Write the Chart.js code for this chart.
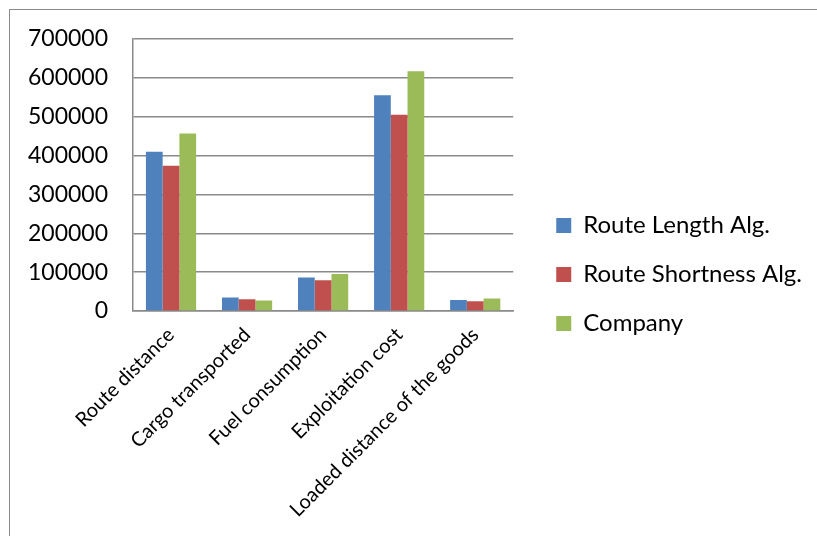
<!DOCTYPE html>
<html>
<head>
<meta charset="utf-8">
<script src="https://cdn.jsdelivr.net/npm/chart.js@4"></script>
<style>
    html, body { margin: 0; padding: 0; background: #fff; }
    #wrap { position: relative; width: 817px; height: 536px; }
    #marco {
        position: absolute; left: 9px; top: 9px; right: 0; bottom: 0;
        border-top: 1.5px solid #8a8a8a; border-left: 1.5px solid #8a8a8a;
        pointer-events: none;
    }
</style>
</head>
<body>
<div id="wrap">
    <canvas id="grafica" width="817" height="536"></canvas>
    <div id="marco"></div>
</div>
<script>
// datos de la grafica
const categorias = ['Route distance', 'Cargo transported', 'Fuel consumption', 'Exploitation cost', 'Loaded distance of the goods'];
const series = ['Route Length Alg.', 'Route Shortness Alg.', 'Company'];
const routeLength = [410000, 35000, 86000, 555000, 28000];
const routeShortness = [374000, 30000, 79000, 505000, 25000];
const company = [457000, 27000, 95000, 617000, 32000];
const ticksY = [0, 100000, 200000, 300000, 400000, 500000, 600000, 700000];

const colores = ['#4F81BD', '#C0504D', '#9BBB59'];
const fuente = 'Lato, "Open Sans", sans-serif';

// la leyenda por defecto no puede pasar de cierto ancho, se lo quitamos
const ajusteLeyenda = {
    id: 'ajusteLeyenda',
    afterInit: function (chart) {
        const leyenda = chart.legend;
        const fitOriginal = leyenda.fit;
        leyenda.fit = function () {
            this.maxWidth = 400;
            fitOriginal.call(this);
        };
    }
};

const Vista = {
    mostrarGrafica: function () {
        const canvas = document.getElementById('grafica');
        const valores = [routeLength, routeShortness, company];

        const chart = new Chart(canvas, {
            type: 'bar',
            data: {
                labels: categorias,
                datasets: series.map((nombre, i) => ({
                    label: nombre,
                    data: valores[i],
                    backgroundColor: colores[i],
                    borderWidth: 0,
                    categoryPercentage: 0.66,
                    barPercentage: 1.0
                }))
            },
            options: {
                responsive: false,
                animation: false,
                layout: {
                    padding: { top: 13, left: 0, right: 5, bottom: 0 }
                },
                plugins: {
                    tooltip: { enabled: false },
                    legend: {
                        position: 'right',
                        labels: {
                            boxWidth: 15,
                            boxHeight: 15,
                            padding: 25,
                            color: '#000',
                            font: { family: fuente, size: 24 }
                        }
                    }
                },
                scales: {
                    x: {
                        grid: { display: false },
                        border: { display: true, color: '#8a8a8a', width: 1.5 },
                        ticks: {
                            autoSkip: false,
                            minRotation: 45,
                            maxRotation: 45,
                            color: '#000',
                            padding: 4,
                            font: { family: fuente, size: 20 }
                        },
                        afterFit: function (scale) { scale.height = 536 - 311; }
                    },
                    y: {
                        min: 0,
                        max: 700000,
                        afterBuildTicks: function (scale) {
                            scale.ticks = ticksY.map(v => ({ value: v }));
                        },
                        grid: { color: '#8a8a8a', lineWidth: 1.5, drawTicks: false },
                        border: { display: true, color: '#8a8a8a', width: 1.5 },
                        ticks: {
                            color: '#000',
                            padding: 25,
                            font: { family: fuente, size: 23 },
                            callback: function (v) { return String(v); }
                        },
                        afterFit: function (scale) { scale.width = 133; }
                    },
                    // ejes vacios solo para dejar margen arriba y a la derecha
                    arriba: {
                        position: 'top',
                        display: true,
                        grid: { display: false },
                        border: { display: false },
                        ticks: { display: false },
                        afterFit: function (scale) { scale.height = 26; }
                    },
                    derecha: {
                        position: 'right',
                        display: true,
                        grid: { display: false },
                        border: { display: false },
                        ticks: { display: false },
                        afterFit: function (scale) { scale.width = 18; }
                    }
                }
            },
            plugins: [ajusteLeyenda]
        });
    }
}

document.addEventListener('DOMContentLoaded', function () {
    Vista.mostrarGrafica();
})
</script>
</body>
</html>
